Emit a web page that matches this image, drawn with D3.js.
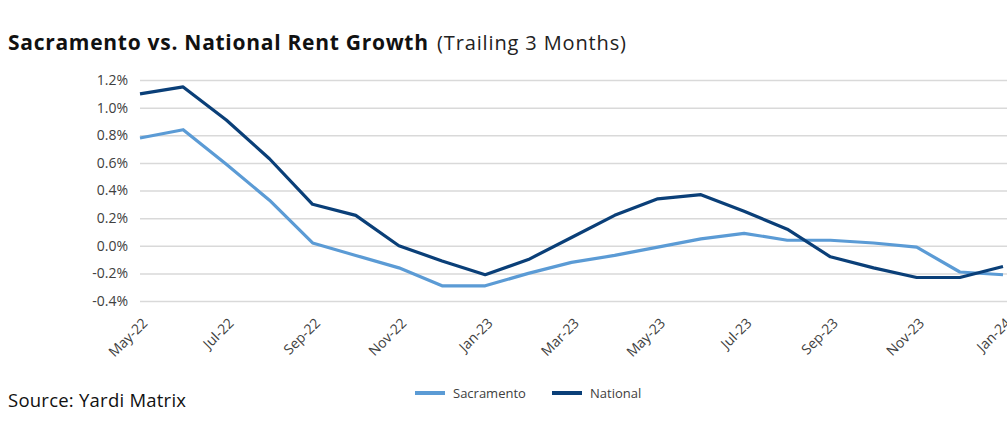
<!DOCTYPE html>
<html>
<head>
<meta charset="utf-8">
<script src="https://cdn.jsdelivr.net/npm/d3@7"></script>
<style>
  html, body { margin: 0; padding: 0; background: #fff; }
  svg { display: block; }
</style>
</head>
<body>
<div id="chart"></div>
<script>
// chart data
const months = ['May-22','Jun-22','Jul-22','Aug-22','Sep-22','Oct-22','Nov-22','Dec-22','Jan-23','Feb-23',
  'Mar-23','Apr-23','May-23','Jun-23','Jul-23','Aug-23','Sep-23','Oct-23','Nov-23','Dec-23','Jan-24'];
const sacramento = [0.78, 0.84, 0.59, 0.33, 0.02, -0.07, -0.16, -0.29, -0.29, -0.20,
  -0.12, -0.07, -0.01, 0.05, 0.09, 0.04, 0.04, 0.02, -0.01, -0.19, -0.21];
const national = [1.10, 1.15, 0.91, 0.63, 0.30, 0.22, 0.00, -0.11, -0.21, -0.10,
  0.06, 0.22, 0.34, 0.37, 0.25, 0.12, -0.08, -0.16, -0.23, -0.23, -0.15];
const yTicks = [-0.4, -0.2, 0, 0.2, 0.4, 0.6, 0.8, 1.0, 1.2];
const xTickLabels = months.filter((m, i) => i % 2 === 0);

const series = [
  { name: 'Sacramento', values: sacramento, color: '#5b9bd5' },
  { name: 'National', values: national, color: '#0a3f78' }
];

const width = 1007, height = 433;
const margin = { top: 80, right: 4, bottom: 132, left: 140 };

const svg = d3.select('#chart').append('svg')
  .attr('width', width).attr('height', height);

const x = d3.scalePoint().domain(months).range([margin.left, width - margin.right]);
const y = d3.scaleLinear().domain([-0.4, 1.2]).range([height - margin.bottom, margin.top]);

// title - the original uses a wide geometric face, so stretch spacing to its width
svg.append('text').attr('x', 8).attr('y', 50)
  .attr('textLength', 420).attr('lengthAdjust', 'spacing')
  .text('Sacramento vs. National Rent Growth')
  .style('font-family', '"Open Sans", sans-serif').style('font-weight', 'bold')
  .style('font-size', '21px').style('fill', '#111');
svg.append('text').attr('x', 437).attr('y', 50)
  .attr('textLength', 189).attr('lengthAdjust', 'spacing')
  .text('(Trailing 3 Months)')
  .style('font-family', '"Open Sans", sans-serif')
  .style('font-size', '20px').style('fill', '#222');

// grid + y labels
const yAxis = svg.append('g')
  .attr('transform', `translate(${margin.left},0)`)
  .call(d3.axisLeft(y).tickValues(yTicks)
    .tickSize(-(width - margin.left - margin.right + 4))
    .tickPadding(12)
    .tickFormat(d => d.toFixed(1) + '%'));
yAxis.select('.domain').remove();
yAxis.selectAll('line').attr('stroke', '#d9d9d9').attr('stroke-width', 1.5);
yAxis.selectAll('text')
  .style('font-family', '"Open Sans", sans-serif').style('font-size', '14px').style('fill', '#404040');

// x labels (rotated)
const xAxis = svg.append('g')
  .attr('transform', `translate(0,${height - margin.bottom})`)
  .call(d3.axisBottom(x).tickValues(xTickLabels).tickSize(0).tickPadding(0));
xAxis.select('.domain').remove();
xAxis.selectAll('text')
  .attr('text-anchor', 'end')
  .attr('transform', 'translate(5,20) rotate(-45)')
  .attr('dy', '0.3em')
  .style('font-family', '"Open Sans", sans-serif').style('font-size', '14px').style('fill', '#404040');

// lines
const line = d3.line()
  .x((d, i) => x(months[i]))
  .y(d => y(d));

svg.selectAll('.series').data(series).enter().append('path')
  .attr('class', 'series')
  .attr('d', d => line(d.values))
  .attr('fill', 'none')
  .attr('stroke', d => d.color)
  .attr('stroke-width', 3.2)
  .attr('stroke-linejoin', 'round');

// legend
const legendPos = [415, 552];
const legend = svg.selectAll('.legend').data(series).enter().append('g')
  .attr('class', 'legend')
  .attr('transform', (d, i) => `translate(${legendPos[i]},393)`);
legend.append('line').attr('x1', 0).attr('x2', 30)
  .attr('stroke', d => d.color).attr('stroke-width', 4);
legend.append('text').attr('x', 38).attr('y', 4.5)
  .text(d => d.name)
  .style('font-family', '"Open Sans", sans-serif').style('font-size', '13px').style('fill', '#404040');

// source
svg.append('text').attr('x', 8).attr('y', 407)
  .attr('textLength', 178).attr('lengthAdjust', 'spacing')
  .text('Source: Yardi Matrix')
  .style('font-family', '"Open Sans", sans-serif').style('font-size', '18.5px').style('fill', '#111');
</script>
</body>
</html>
